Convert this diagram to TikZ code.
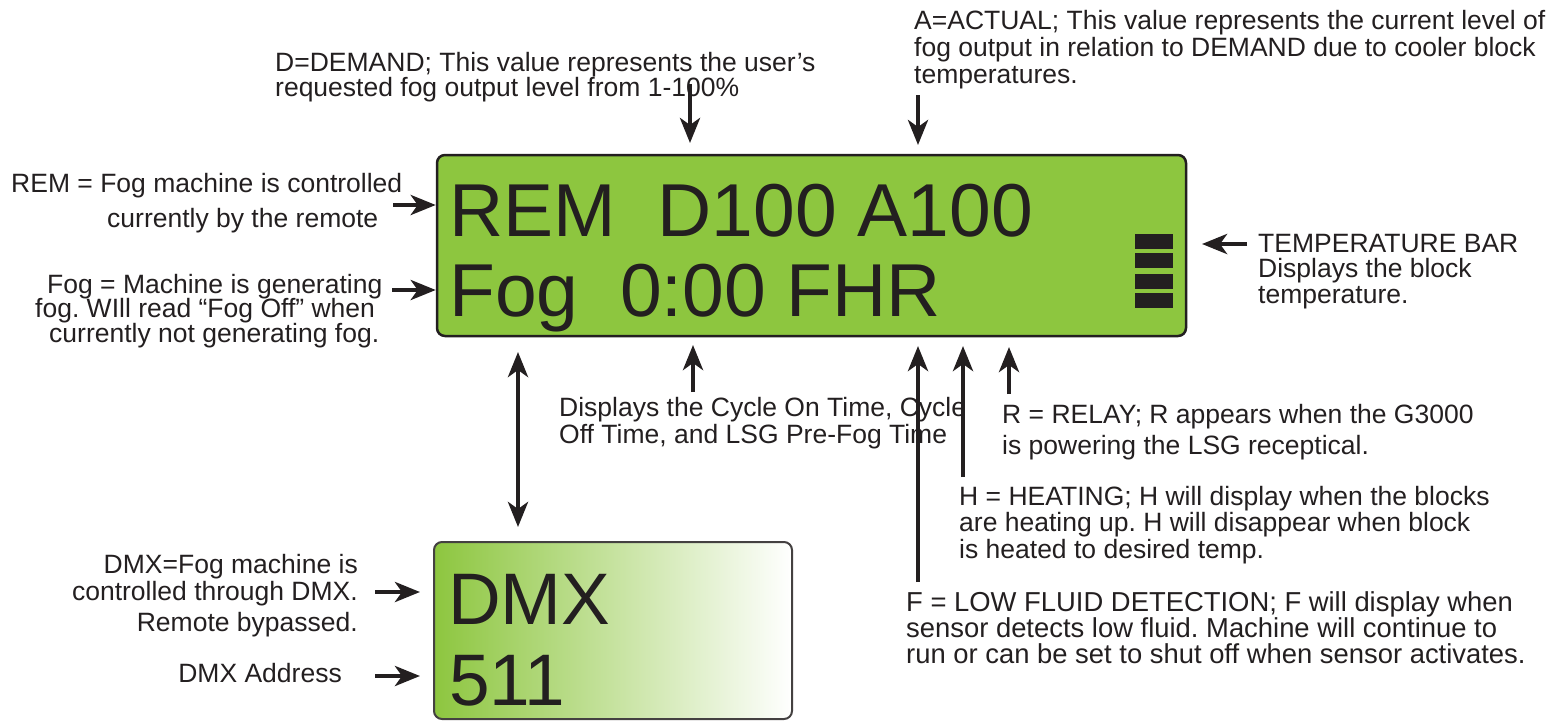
\documentclass[tikz,border=0pt]{standalone}
\usepackage{fontspec}
\setmainfont{Liberation Sans}
\frenchspacing
\usetikzlibrary{arrows.meta}
\definecolor{lcdgreen}{RGB}{141,198,63}
\definecolor{inkblack}{RGB}{35,31,32}
\tikzset{
  ptr/.tip={Stealth[length=25pt,width=20pt,inset=7pt]},
  lcdpanel/.style={draw=inkblack,line width=2.5pt,fill=lcdgreen,rounded corners=8pt,inner sep=0pt},
  dmxpanel/.style={draw=inkblack!85,line width=2pt,left color=lcdgreen,right color=white,rounded corners=8pt,inner sep=0pt},
  lcdtext/.style={font=\fontsize{75}{75}\selectfont,text=inkblack,inner sep=0pt,anchor=base west},
  note/.style={font=\fontsize{26.5}{26.5}\selectfont,text=inkblack,inner sep=0pt,align=left,anchor=base west},
  pointer/.style={draw=inkblack,line width=4.5pt,-ptr},
}

\begin{document}
\begin{tikzpicture}[x=1pt,y=-1pt]
    \useasboundingbox (0,0) rectangle (1552,721);
    % main display
    \node[lcdpanel,minimum width=749pt,minimum height=181pt] (lcd) at (811.5,245.5) {};
    \node[lcdtext] (row1) at (449,236) {REM\ \ D100 A100};
    \node[lcdtext] (row2) at (449,316) {Fog\ \ 0:00 FHR};
    \foreach \ya/\yb in {234/249,253/268,274/289,293/308}
      \fill[inkblack] (1135,\ya) rectangle (1173,\yb);
    % dmx display
    \node[dmxpanel,minimum width=358pt,minimum height=177pt] (dmx) at (613,630.5) {};
    \node[lcdtext,font=\fontsize{73}{73}\selectfont] (dmxrow1) at (448,624) {DMX};
    \node[lcdtext,font=\fontsize{73}{73}\selectfont] (dmxrow2) at (449,705) {511};
    % notes (base = last line)
    \node[note] (remnote) at (11,227) {REM = Fog machine is controlled\\[8.5pt]\hspace*{96pt}currently by the remote};
    \node[note] (fognote) at (35,342) {\hspace*{12pt}Fog = Machine is generating\\[-2pt]fog. WIll read “Fog Off” when\\[-2pt]\hspace*{14pt}currently not generating fog.};
    \node[note] (demandnote) at (275,96) {D=DEMAND; This value represents the user’s\\[-1.5pt]requested fog output level from 1-100\%};
    \node[note] (actualnote) at (914,83) {A=ACTUAL; This value represents the current level of\\[0.5pt]fog output in relation to DEMAND due to cooler block\\[0.5pt]temperatures.};
    \node[note] (tempnote) at (1258,303) {TEMPERATURE BAR\\[-1pt]Displays the block\\[-1pt]temperature.};
    \node[note] (cyclenote) at (559,443) {Displays the Cycle On Time, Cycle\\[0.5pt]Off Time, and LSG Pre-Fog Time};
    \node[note] (relaynote) at (1002,454) {R = RELAY; R appears when the G3000\\[4pt]is powering the LSG receptical.};
    \node[note] (heatnote) at (959,558) {H = HEATING; H will display when the blocks\\are heating up. H will disappear when block\\is heated to desired temp.};
    \node[note,font=\fontsize{27.4}{26.5}\selectfont] (fluidnote) at (906,663) {F = LOW FLUID DETECTION; F will display when\\[-0.5pt]sensor detects low fluid. Machine will continue to\\[-0.5pt]run or can be set to shut off when sensor activates.};
    \node[note,align=right,anchor=base east] (dmxnote) at (358,631) {DMX=Fog machine is\\[0.5pt]controlled through DMX.\\[4.5pt]Remote bypassed.};
    \node[note,anchor=base east] (addrnote) at (342,682) {DMX Address};
    % arrow ends
    \foreach \n/\x/\y in {remtail/393/205,fogtail/392/290,demtail/690/84,demtip/690/143,
        acttail/918/95,acttip/918/145,cyctail/693/392,cyctip/693/345,
        fltail/918/582,fltip/918/346,heattail/963/477,heattip/963/346,
        reltail/1009/394,reltip/1009/347,temptail/1247/244,temptip/1202/244,
        linktop/518/352,linkbot/518/527,dmxtail/375/592,dmxtip/420/592,
        addrtail/375/676,addrtip/420/676}
      \coordinate (\n) at (\x,\y);
    \draw[pointer] (remtail) -- (lcd.west |- remtail);
    \draw[pointer] (fogtail) -- (lcd.west |- fogtail);
    \foreach \s/\t in {demtail/demtip,acttail/acttip,cyctail/cyctip,fltail/fltip,
        heattail/heattip,reltail/reltip,temptail/temptip,dmxtail/dmxtip,addrtail/addrtip}
      \draw[pointer] (\s) -- (\t);
    \draw[pointer,ptr-ptr] (linktop) -- (linkbot);
\end{tikzpicture}
\end{document}
